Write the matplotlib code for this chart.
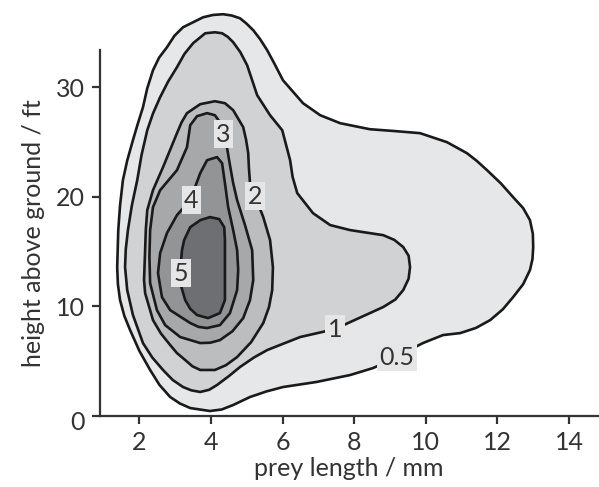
import matplotlib
matplotlib.use("Agg")
import matplotlib.pyplot as plt
import matplotlib.transforms as mtransforms

plt.rcParams["font.family"] = ["Lato", "DejaVu Sans"]

# contour lines of the 2D density (prey length in mm, height in ft)
lvl05_x = [4.34, 4.05, 3.78, 3.22, 2.98, 2.77, 2.55, 2.38, 2.22, 2.10, 1.95, 1.82, 1.66,
           1.54, 1.46, 1.41, 1.38, 1.40, 1.46, 1.58, 1.74, 2.00, 2.30, 2.56, 2.86, 3.13,
           3.42, 3.97, 4.30, 4.62, 5.09, 5.55, 6.01, 6.94, 7.89, 8.53, 9.20, 9.65, 9.92,
           10.48, 10.96, 11.40, 11.80, 12.15, 12.44, 12.72, 12.91, 12.98, 13.00, 12.99,
           12.91, 12.72, 12.44, 12.10, 11.71, 11.43, 11.15, 10.59, 9.84, 9.10, 8.44, 7.61,
           7.05, 6.57, 6.01, 5.78, 5.57, 5.37, 5.18, 4.98, 4.81, 4.58]
lvl05_y = [36.67, 36.60, 36.39, 35.48, 34.70, 33.65, 32.70, 31.55, 29.90, 28.17, 26.60,
           25.16, 23.30, 21.51, 19.20, 16.94, 13.56, 12.00, 10.55, 9.10, 7.81, 5.90, 4.16,
           2.80, 1.69, 1.10, 0.68, 0.41, 0.55, 0.96, 1.69, 2.20, 2.60, 3.06, 3.70, 4.34,
           5.34, 6.16, 6.62, 7.35, 7.53, 8.00, 8.72, 9.70, 10.82, 12.00, 13.29, 14.30,
           15.39, 16.60, 17.85, 18.95, 19.95, 21.20, 22.42, 23.25, 23.97, 24.98, 25.80,
           26.00, 26.16, 26.71, 27.44, 28.54, 30.64, 32.10, 33.38, 34.40, 35.21, 35.85,
           36.30, 36.55]

lvl1_x = [4.11, 3.84, 3.50, 3.26, 3.05, 2.80, 2.58, 2.38, 2.22, 2.06, 1.94, 1.79, 1.68,
          1.62, 1.60, 1.66, 1.82, 2.10, 2.36, 2.66, 2.93, 3.22, 3.45, 3.70, 3.95, 4.17,
          4.50, 4.81, 5.20, 5.57, 6.49, 7.47, 7.89, 8.81, 9.15, 9.37, 9.52, 9.56, 9.52,
          9.37, 9.12, 8.81, 7.89, 7.33, 6.85, 6.41, 6.28, 6.21, 5.99, 5.65, 5.29, 5.01,
          4.82, 4.62, 4.47, 4.31]
lvl1_y = [35.02, 34.93, 34.02, 33.05, 31.83, 30.50, 29.09, 27.60, 26.07, 23.80, 21.51,
          19.20, 16.94, 15.20, 13.56, 11.46, 9.18, 6.62, 5.30, 4.16, 3.25, 2.60, 2.30,
          2.15, 2.35, 2.79, 3.60, 4.43, 5.30, 5.98, 7.17, 7.90, 8.54, 9.91, 10.60, 11.46,
          12.50, 13.56, 14.60, 15.39, 16.05, 16.48, 16.94, 17.40, 18.49, 20.32, 21.80,
          23.33, 26.07, 27.44, 29.27, 32.01, 33.20, 34.11, 34.60, 34.93]

lvl2_x = [4.11, 3.70, 3.33, 3.18, 3.05, 2.85, 2.66, 2.38, 2.22, 2.18, 2.16, 2.13, 2.16,
          2.38, 2.60, 2.86, 3.05, 3.28, 3.48, 3.70, 4.11, 4.42, 4.73, 5.12, 5.46, 5.62,
          5.71, 5.73, 5.65, 5.46, 5.23, 5.09, 5.06, 5.04, 4.98, 4.90, 4.62, 4.39]
lvl2_y = [28.72, 28.45, 27.63, 26.80, 25.80, 24.20, 22.69, 20.59, 18.77, 17.00, 15.11,
          12.37, 11.19, 8.72, 7.50, 6.44, 5.70, 5.07, 4.50, 4.16, 4.16, 4.60, 5.34, 6.70,
          8.45, 9.90, 11.46, 13.56, 16.03, 18.13, 20.05, 21.23, 22.60, 23.97, 25.20,
          26.35, 27.90, 28.54]

lvl3_x = [3.89, 3.61, 3.42, 3.33, 3.05, 2.58, 2.38, 2.30, 2.28, 2.30, 2.49, 2.72, 3.14,
          3.70, 3.98, 4.25, 4.60, 4.90, 5.09, 5.18, 5.15, 4.95, 4.73, 4.62, 4.53, 4.45,
          4.31, 4.11]
lvl3_y = [27.63, 27.35, 26.53, 24.52, 22.42, 20.59, 19.04, 16.94, 14.50, 12.10, 9.63,
          8.26, 7.17, 6.62, 6.65, 6.89, 7.70, 8.90, 10.55, 12.37, 15.11, 17.40, 19.68,
          21.23, 22.88, 24.43, 26.53, 27.44]

lvl4_x = [4.17, 3.89, 3.70, 3.42, 3.05, 2.77, 2.58, 2.52, 2.63, 2.86, 3.42, 3.65, 3.89,
          4.25, 4.53, 4.73, 4.76, 4.73, 4.62, 4.48, 4.39, 4.31]
lvl4_y = [23.61, 23.33, 22.15, 19.68, 18.31, 16.67, 14.84, 13.01, 10.82, 9.63, 8.45,
          8.10, 7.99, 8.26, 9.36, 11.46, 13.29, 15.11, 16.94, 19.04, 21.23, 23.06]

lvl5_x = [3.97, 3.70, 3.42, 3.25, 3.19, 3.15, 3.14, 3.28, 3.42, 3.61, 3.92, 4.25, 4.39,
          4.39, 4.39, 4.37, 4.23]
lvl5_y = [18.13, 17.85, 17.21, 16.03, 15.11, 13.60, 12.10, 10.55, 9.75, 9.18, 8.90,
          9.36, 10.55, 13.29, 16.03, 17.21, 17.95]

fill_colors = ["#e6e7e8", "#d1d2d4", "#bcbdbf", "#a7a8aa", "#939496", "#6e6f72"]

label_text = ["0.5", "1", "2", "3", "4", "5"]
label_x = [9.20, 7.47, 5.23, 4.35, 3.45, 3.17]
label_y = [5.34, 7.90, 20.05, 25.71, 19.68, 13.01]

x_ticks = [2, 4, 6, 8, 10, 12, 14]
y_ticks = [0, 10, 20, 30]

dark = "#333333"
fs = 18

fig = plt.figure(figsize=(5.99, 4.87), dpi=100)
ax = fig.add_axes([100 / 599, 71.5 / 487, 498 / 599, 365.5 / 487])

contours = [(lvl05_x, lvl05_y), (lvl1_x, lvl1_y), (lvl2_x, lvl2_y),
            (lvl3_x, lvl3_y), (lvl4_x, lvl4_y), (lvl5_x, lvl5_y)]
for (cx, cy), fc in zip(contours, fill_colors):
    ax.fill(cx, cy, facecolor=fc, edgecolor="#1a1a1a", linewidth=1.9,
            joinstyle="round", clip_on=False, zorder=2)

for t, lx, ly in zip(label_text, label_x, label_y):
    ax.text(lx, ly, t, ha="center", va="center", fontsize=fs, color=dark, zorder=4,
            bbox=dict(boxstyle="square,pad=0.1", fc="#e6e6e6", ec="none"))

ax.set_xlim(0.9, 14.81)
ax.set_ylim(0, 33.4)
ax.set_xticks(x_ticks)
ax.set_yticks(y_ticks)
ax.spines["top"].set_visible(False)
ax.spines["right"].set_visible(False)
for s in ["left", "bottom"]:
    ax.spines[s].set_linewidth(1.6)
    ax.spines[s].set_color(dark)
    ax.spines[s].set_zorder(3)
ax.tick_params(length=6, width=1.6, color=dark, labelcolor=dark, labelsize=fs, pad=5)
ax.set_xlabel("prey length / mm", fontsize=fs, color=dark, labelpad=2)
ax.set_ylabel("height above ground / ft", fontsize=fs, color=dark, labelpad=8)

# the "0" label sits a little below the x axis line in the original
zero = ax.get_yticklabels()[0]
zero.set_transform(zero.get_transform()
                   + mtransforms.ScaledTranslation(0, -5 / 100, fig.dpi_scale_trans))

fig.savefig("out.png", dpi=100)
